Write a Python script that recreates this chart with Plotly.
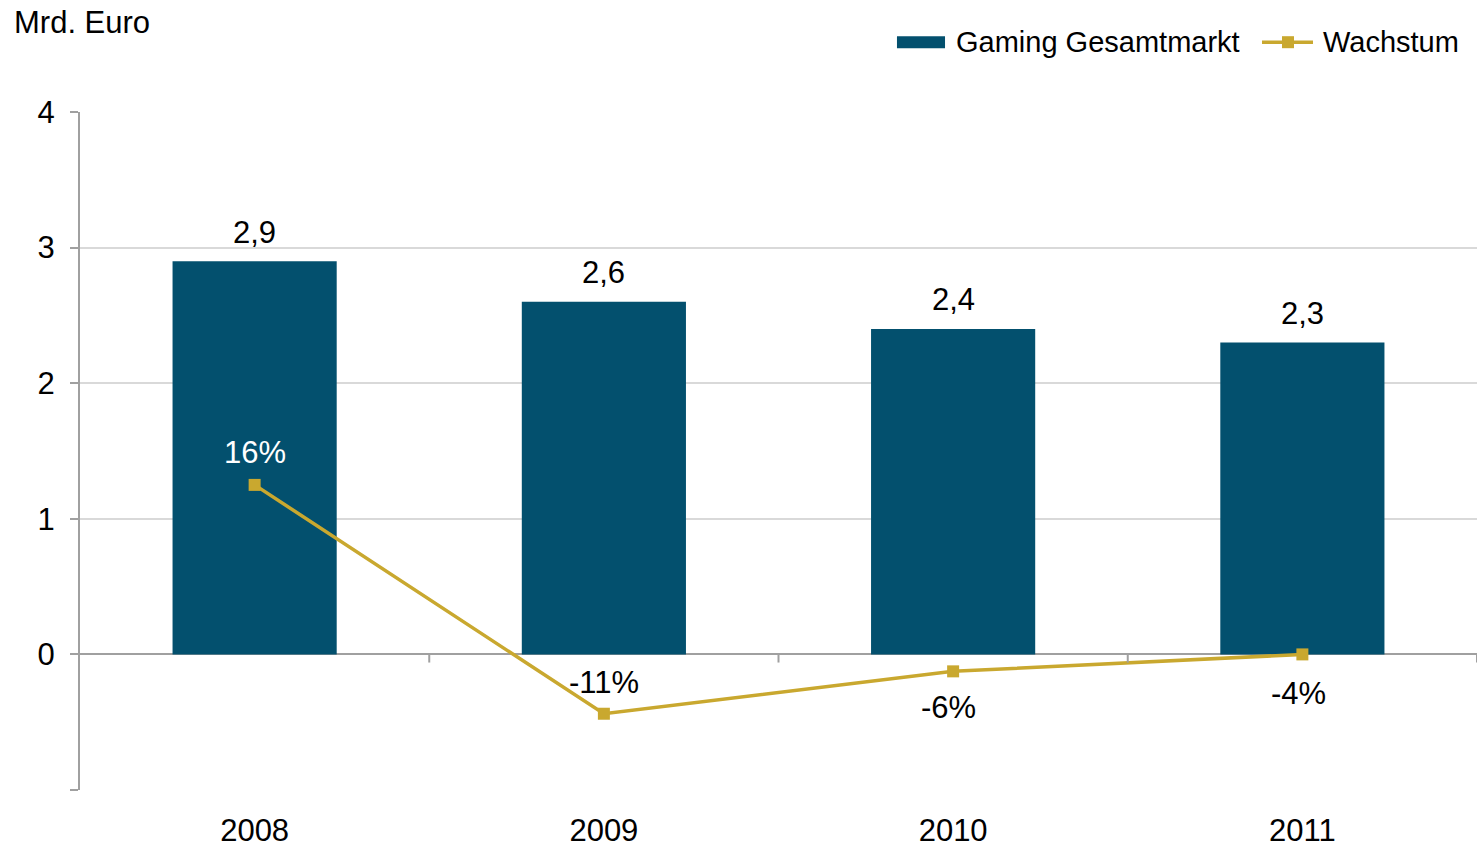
import plotly.graph_objects as go

# Data
years = ["2008", "2009", "2010", "2011"]
market = [2.9, 2.6, 2.4, 2.3]          # Mrd. Euro
growth = [0.16, -0.11, -0.06, -0.04]   # Wachstum gegenüber Vorjahr
y_ticks = [-1, 0, 1, 2, 3, 4]
y_ticktext = ["", "0", "1", "2", "3", "4"]

BAR_COLOR = "#03506E"
LINE_COLOR = "#C9A82F"
AXIS_COLOR = "#A0A0A0"
GRID_COLOR = "#D9D9D9"
FONT = "Liberation Sans, Arial, sans-serif"
FS = 31
FS_LEGEND = 29

fig = go.Figure()

fig.add_trace(go.Bar(
    x=years, y=market, name="Gaming Gesamtmarkt",
    marker=dict(color=BAR_COLOR, line=dict(width=0)),
    width=0.47, showlegend=False, hoverinfo="skip",
))

fig.add_trace(go.Scatter(
    x=years, y=growth, name="Wachstum", yaxis="y2",
    mode="lines+markers",
    line=dict(color=LINE_COLOR, width=3.5),
    marker=dict(symbol="square", size=12, color=LINE_COLOR),
    showlegend=False, hoverinfo="skip",
))

annotations = []

# Bar value labels (category axis: position by index)
for i, v in enumerate(market):
    annotations.append(dict(
        x=i, y=v, xref="x", yref="y", text=f"{v:.1f}".replace(".", ","),
        showarrow=False, yanchor="middle", yshift=29,
        font=dict(family=FONT, size=FS, color="black"),
    ))

# Growth labels
label_yshift = [32, 31, -36, -39]
label_xshift = [0, 0, -5, -4]
label_color = ["white", "black", "black", "black"]
for i, (g, sy, sx, c) in enumerate(zip(growth, label_yshift, label_xshift, label_color)):
    annotations.append(dict(
        x=i, y=g, xref="x", yref="y2", text=f"{round(g * 100):d}%",
        showarrow=False, yanchor="middle", yshift=sy, xshift=sx,
        font=dict(family=FONT, size=FS, color=c),
    ))

# Unit label
annotations.append(dict(
    x=-0.0487, y=1.1324, xref="paper", yref="paper", text="Mrd. Euro",
    showarrow=False, xanchor="left", yanchor="middle",
    font=dict(family=FONT, size=FS, color="black"),
))

# Legend entries
annotations.append(dict(
    x=0.6255, y=1.1029, xref="paper", yref="paper", text="Gaming Gesamtmarkt",
    showarrow=False, xanchor="left", yanchor="middle",
    font=dict(family=FONT, size=FS_LEGEND, color="black"),
))
annotations.append(dict(
    x=0.8882, y=1.1029, xref="paper", yref="paper", text="Wachstum",
    showarrow=False, xanchor="left", yanchor="middle",
    font=dict(family=FONT, size=FS_LEGEND, color="black"),
))

shapes = [
    # legend swatches
    dict(type="rect", xref="paper", yref="paper", x0=0.5848, x1=0.6192,
         y0=1.0941, y1=1.1118, fillcolor=BAR_COLOR, line=dict(width=0)),
    dict(type="line", xref="paper", yref="paper", x0=0.8461, x1=0.8826,
         y0=1.1029, y1=1.1029, line=dict(color=LINE_COLOR, width=3.5)),
    dict(type="rect", xref="paper", yref="paper", x0=0.8604, x1=0.8690,
         y0=1.0941, y1=1.1118, fillcolor=LINE_COLOR, line=dict(width=0)),
]

# Category boundary ticks hanging from the zero line
for i in range(len(years)):
    shapes.append(dict(
        type="line", xref="x", yref="y", x0=i + 0.5, x1=i + 0.5,
        y0=0, y1=-0.06, line=dict(color=AXIS_COLOR, width=2),
    ))

fig.update_layout(
    width=1477, height=848,
    margin=dict(l=80, r=0, t=112, b=54),
    paper_bgcolor="white", plot_bgcolor="white",
    font=dict(family=FONT, size=FS, color="black"),
    showlegend=False,
    xaxis=dict(
        type="category", range=[-0.5, 3.5],
        showline=False, showgrid=False, zeroline=False,
        ticks="", ticklabelstandoff=19,
        tickfont=dict(family=FONT, size=FS, color="black"),
    ),
    yaxis=dict(
        range=[-1, 4], tickvals=y_ticks, ticktext=y_ticktext,
        showline=True, linecolor=AXIS_COLOR, linewidth=2,
        ticks="outside", ticklen=8, tickcolor=AXIS_COLOR, tickwidth=2,
        ticklabelstandoff=9,
        showgrid=True, gridcolor=GRID_COLOR, gridwidth=2,
        zeroline=True, zerolinecolor=AXIS_COLOR, zerolinewidth=2,
        tickfont=dict(family=FONT, size=FS, color="black"),
    ),
    yaxis2=dict(
        overlaying="y", range=[-0.2, 0.6], visible=False,
    ),
    annotations=annotations,
    shapes=shapes,
)

fig.write_html("out.html")
